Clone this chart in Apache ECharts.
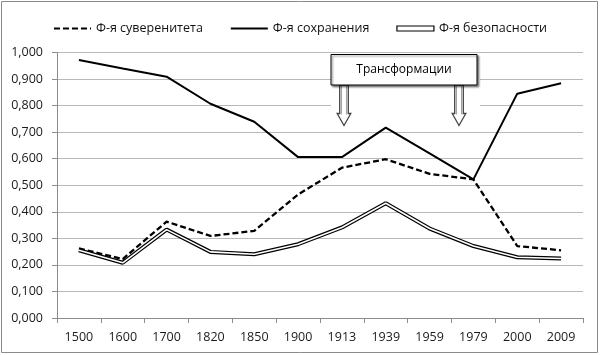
<!DOCTYPE html>
<html>
<head>
<meta charset="utf-8">
<script src="https://cdn.jsdelivr.net/npm/echarts@6/dist/echarts.min.js"></script>
<style>
html,body{margin:0;padding:0;background:#fff;}
#chart{width:600px;height:355px;}
</style>
</head>
<body>
<div id="chart"></div>
<script>
const categories = ['1500','1600','1700','1820','1850','1900','1913','1939','1959','1979','2000','2009'];
const seriesNames = ['Ф-я суверенитета','Ф-я сохранения','Ф-я безопасности'];
const sovereignty = [0.262, 0.222, 0.363, 0.309, 0.328, 0.465, 0.566, 0.598, 0.543, 0.522, 0.271, 0.255];
const preservation = [0.972, 0.940, 0.909, 0.807, 0.739, 0.606, 0.606, 0.717, 0.620, 0.522, 0.845, 0.884];
const security = [0.255, 0.208, 0.333, 0.249, 0.240, 0.278, 0.341, 0.432, 0.337, 0.271, 0.229, 0.224];
const yTicks = {min: 0, max: 1, interval: 0.1};
const annotationText = 'Трансформации';

const FONT = '"Open Sans", "Liberation Sans", sans-serif';
const chart = echarts.init(document.getElementById('chart'), null, {renderer: 'canvas'});

function arrow(cx, top, shaftBottom, tip) {
  return [
    {
      type: 'polygon', z: 101, silent: true,
      shape: {points: [[cx-4.3, top],[cx+4.3, top],[cx+4.3, shaftBottom],[cx+6.8, shaftBottom],[cx, tip],[cx-6.8, shaftBottom],[cx-4.3, shaftBottom]]},
      style: {fill: '#fff', stroke: '#444', lineWidth: 1.3}
    },
    {
      type: 'line', z: 102, silent: true,
      shape: {x1: cx-2.6, y1: top, x2: cx-2.6, y2: shaftBottom+1},
      style: {stroke: '#999', lineWidth: 1}
    },
    {
      type: 'line', z: 102, silent: true,
      shape: {x1: cx+2.6, y1: top, x2: cx+2.6, y2: shaftBottom+1},
      style: {stroke: '#999', lineWidth: 1}
    }
  ];
}

const hideSymbol = {color: 'rgba(0,0,0,0)', borderWidth: 0, opacity: 0};

const option = {
  animation: false,
  backgroundColor: '#fff',
  grid: {left: 57, right: 17, top: 52.5, bottom: 37},
  legend: {
    left: 'center',
    top: 17,
    itemWidth: 37,
    itemHeight: 5,
    itemGap: 27,
    textStyle: {fontFamily: FONT, fontSize: 12.5, color: '#111'},
    data: [
      {name: seriesNames[0], itemStyle: hideSymbol},
      {name: seriesNames[1], itemStyle: hideSymbol},
      {name: seriesNames[2], icon: 'rect', itemStyle: {color: '#fff', borderColor: '#000', borderWidth: 1.2}}
    ]
  },
  xAxis: {
    type: 'category',
    data: categories,
    boundaryGap: true,
    axisLine: {lineStyle: {color: '#8c8c8c', width: 1}},
    axisTick: {show: true, length: 5, lineStyle: {color: '#8c8c8c'}, alignWithLabel: false},
    axisLabel: {fontFamily: FONT, fontSize: 12.5, color: '#1a1a1a', margin: 13, interval: 0},
    splitLine: {show: false}
  },
  yAxis: {
    type: 'value',
    min: yTicks.min,
    max: yTicks.max,
    interval: yTicks.interval,
    axisLine: {show: true, lineStyle: {color: '#8c8c8c', width: 1}},
    axisTick: {show: true, length: 5, lineStyle: {color: '#8c8c8c'}},
    axisLabel: {
      fontFamily: FONT, fontSize: 12.5, color: '#1a1a1a', margin: 14,
      formatter: v => v.toFixed(3).replace('.', ',')
    },
    splitLine: {show: true, lineStyle: {color: '#b9b9b9', width: 1}}
  },
  series: [
    {
      name: seriesNames[0], type: 'line', data: sovereignty, symbol: 'none', z: 3,
      lineStyle: {color: '#000', width: 2.3, type: [6, 3]}, itemStyle: {color: '#000'}
    },
    {
      name: seriesNames[1], type: 'line', data: preservation, symbol: 'none', z: 3,
      lineStyle: {color: '#000', width: 2}, itemStyle: {color: '#000'}
    },
    {
      name: seriesNames[2], type: 'line', data: security, symbol: 'none', z: 4,
      lineStyle: {color: '#000', width: 4}, itemStyle: {color: '#000'}
    },
    {
      name: seriesNames[2] + ' (inner)', type: 'line', data: security, symbol: 'none', z: 5,
      lineStyle: {color: '#fff', width: 1.6}, itemStyle: {color: '#fff'}, silent: true
    }
  ],
  graphic: [
    {
      type: 'rect', z: -10, silent: true,
      shape: {x: 1.5, y: 1.5, width: 596, height: 351},
      style: {fill: 'none', stroke: '#8a8a8a', lineWidth: 1}
    },
    {
      type: 'rect', z: 99, silent: true,
      shape: {x: 331, y: 54, width: 149, height: 72},
      style: {fill: '#fff', stroke: null}
    },
    {
      type: 'rect', z: 103, silent: true,
      shape: {x: 331, y: 54.5, width: 146, height: 30.5},
      style: {fill: '#fff', stroke: '#000', lineWidth: 1, shadowBlur: 2, shadowOffsetX: 1.5, shadowOffsetY: 1.5, shadowColor: 'rgba(0,0,0,0.45)'}
    },
    {
      type: 'text', z: 104, silent: true,
      x: 404, y: 70,
      style: {text: annotationText, fontFamily: FONT, fontSize: 12, fill: '#000', align: 'center', verticalAlign: 'middle'}
    }
  ].concat(arrow(344, 85, 113.5, 125.5), arrow(459, 85, 113.5, 125.5))
};
chart.setOption(option);
</script>
</body>
</html>
